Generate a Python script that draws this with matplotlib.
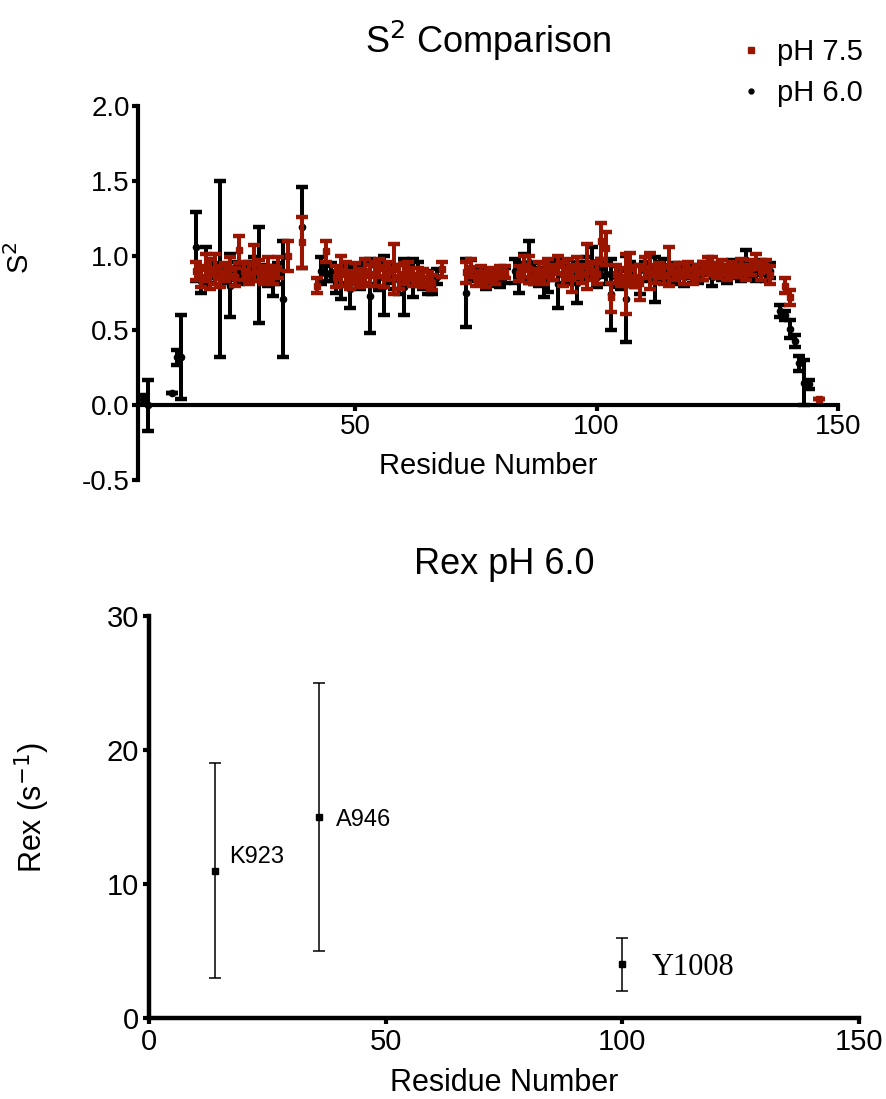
import numpy as np
import matplotlib
matplotlib.use("Agg")
import matplotlib.pyplot as plt
from matplotlib.lines import Line2D

plt.rcParams["font.family"] = ["Liberation Sans", "DejaVu Sans"]

# S2 order parameters, pH 6.0 (black)
res_60 = [6, 7, 12, 13, 14, 17, 18, 19, 20, 21, 22, 23, 24, 25, 26, 27, 28, 29, 30, 31,
          32, 33, 34, 35, 39, 43, 44, 45, 46, 47, 48, 49, 50, 51, 52, 53, 54, 55, 56, 57,
          58, 59, 60, 61, 62, 63, 64, 65, 66, 67, 73, 74, 76, 77, 78, 79, 80, 81, 83, 84,
          85, 86, 87, 88, 89, 90, 91, 92, 93, 94, 95, 96, 97, 98, 99, 100, 101, 102, 103, 104,
          105, 106, 107, 108, 109, 110, 111, 112, 113, 114, 115, 116, 117, 118, 119, 120, 121, 122, 123, 124,
          125, 126, 127, 128, 129, 130, 131, 132, 133, 134, 135, 136, 138, 139, 140, 141, 142, 143, 144]
s2_60 = [0.04, 0.00, 0.08, 0.32, 0.32, 1.06, 0.83, 0.93, 0.88, 0.90, 0.91, 0.87, 0.80, 0.90, 0.88, 0.88, 0.90, 0.92, 0.87, 0.89,
         0.86, 0.83, 0.88, 0.71, 1.19, 0.90, 0.88, 0.89, 0.82, 0.81, 0.88, 0.78, 0.87, 0.86, 0.88, 0.73, 0.87, 0.86, 0.80, 0.88,
         0.85, 0.84, 0.79, 0.87, 0.85, 0.88, 0.84, 0.82, 0.80, 0.86, 0.75, 0.90, 0.87, 0.84, 0.85, 0.86, 0.83, 0.87, 0.90, 0.85,
         0.92, 0.96, 0.88, 0.86, 0.82, 0.85, 0.90, 0.81, 0.88, 0.90, 0.87, 0.82, 0.90, 0.92, 0.96, 0.86, 0.92, 0.88, 0.74, 0.86,
         0.84, 0.71, 0.88, 0.86, 0.84, 0.90, 0.88, 0.84, 0.90, 0.91, 0.88, 0.90, 0.87, 0.86, 0.90, 0.88, 0.87, 0.90, 0.91, 0.86,
         0.90, 0.89, 0.87, 0.92, 0.90, 0.88, 0.97, 0.90, 0.89, 0.92, 0.88, 0.90, 0.63, 0.60, 0.51, 0.43, 0.28, 0.15, 0.14]
err_60 = [0.03, 0.17, 0.00, 0.05, 0.28, 0.23, 0.08, 0.13, 0.06, 0.05, 0.59, 0.05, 0.21, 0.06, 0.07, 0.05, 0.06, 0.07, 0.32, 0.05,
          0.06, 0.10, 0.07, 0.39, 0.27, 0.09, 0.05, 0.06, 0.07, 0.10, 0.06, 0.13, 0.06, 0.08, 0.07, 0.25, 0.06, 0.09, 0.20, 0.06,
          0.07, 0.10, 0.19, 0.06, 0.13, 0.08, 0.06, 0.08, 0.06, 0.05, 0.23, 0.07, 0.05, 0.06, 0.05, 0.05, 0.04, 0.05, 0.08, 0.10,
          0.09, 0.14, 0.07, 0.06, 0.10, 0.09, 0.06, 0.16, 0.06, 0.07, 0.06, 0.14, 0.06, 0.07, 0.10, 0.07, 0.06, 0.07, 0.24, 0.07,
          0.06, 0.29, 0.08, 0.07, 0.10, 0.06, 0.05, 0.15, 0.06, 0.07, 0.06, 0.05, 0.06, 0.06, 0.05, 0.06, 0.05, 0.06, 0.04, 0.06,
          0.05, 0.05, 0.05, 0.05, 0.05, 0.05, 0.07, 0.05, 0.06, 0.05, 0.05, 0.05, 0.04, 0.03, 0.06, 0.04, 0.05, 0.15, 0.03]

# S2 order parameters, pH 7.5 (red)
res_75 = [17, 18, 19, 20, 21, 22, 23, 24, 25, 26, 27, 28, 29, 30, 31, 32, 33, 34, 36, 39,
          42, 44, 46, 47, 48, 49, 50, 51, 52, 53, 54, 55, 56, 57, 58, 59, 60, 61, 62, 63,
          64, 65, 66, 68, 73, 74, 75, 76, 77, 78, 79, 80, 81, 84, 85, 86, 87, 88, 89, 90,
          91, 92, 93, 94, 95, 96, 97, 98, 99, 100, 101, 102, 103, 104, 105, 106, 107, 108, 109, 110,
          111, 112, 113, 114, 115, 116, 117, 118, 119, 120, 121, 122, 123, 124, 125, 126, 127, 128, 129, 130,
          131, 132, 133, 134, 135, 136, 139, 140, 146]
s2_75 = [0.90, 0.86, 0.92, 0.88, 0.91, 0.86, 0.89, 0.92, 0.86, 1.04, 0.90, 0.88, 0.95, 0.90, 0.87, 0.91, 0.87, 0.92, 1.00, 1.09,
         0.80, 1.03, 0.86, 0.90, 0.88, 0.84, 0.88, 0.85, 0.90, 0.87, 0.88, 0.92, 0.86, 0.90, 0.91, 0.86, 0.88, 0.90, 0.86, 0.87,
         0.85, 0.84, 0.82, 0.91, 0.89, 0.92, 0.85, 0.87, 0.84, 0.88, 0.86, 0.89, 0.89, 0.88, 0.93, 0.91, 0.86, 0.90, 0.88, 0.92,
         0.89, 0.94, 0.88, 0.91, 0.85, 0.92, 0.88, 0.93, 0.90, 0.88, 1.10, 1.05, 0.72, 0.88, 0.86, 0.81, 0.92, 0.86, 0.82, 0.92,
         0.90, 0.88, 0.90, 0.87, 0.93, 0.89, 0.90, 0.88, 0.91, 0.86, 0.89, 0.90, 0.94, 0.93, 0.90, 0.92, 0.89, 0.91, 0.90, 0.93,
         0.89, 0.92, 0.96, 0.90, 0.93, 0.87, 0.80, 0.72, 0.04]
err_75 = [0.06, 0.07, 0.09, 0.10, 0.10, 0.07, 0.06, 0.07, 0.06, 0.09, 0.06, 0.07, 0.12, 0.07, 0.06, 0.08, 0.06, 0.07, 0.10, 0.17,
          0.05, 0.07, 0.07, 0.10, 0.08, 0.06, 0.07, 0.06, 0.08, 0.07, 0.08, 0.06, 0.07, 0.06, 0.17, 0.08, 0.07, 0.06, 0.06, 0.05,
          0.06, 0.05, 0.05, 0.05, 0.07, 0.06, 0.05, 0.06, 0.05, 0.04, 0.05, 0.04, 0.04, 0.05, 0.07, 0.09, 0.05, 0.06, 0.07, 0.06,
          0.05, 0.06, 0.08, 0.07, 0.09, 0.07, 0.06, 0.15, 0.06, 0.07, 0.12, 0.11, 0.10, 0.06, 0.06, 0.20, 0.10, 0.07, 0.12, 0.07,
          0.12, 0.06, 0.05, 0.06, 0.13, 0.05, 0.05, 0.07, 0.05, 0.05, 0.05, 0.06, 0.05, 0.06, 0.05, 0.05, 0.05, 0.05, 0.04, 0.05,
          0.05, 0.05, 0.05, 0.06, 0.04, 0.06, 0.05, 0.05, 0.00]

# Rex at pH 6.0
rex_res = [14, 36, 100]
rex_val = [11, 15, 4]
rex_err = [8, 10, 2]
rex_labels = ["K923", "A946", "Y1008"]

red = "#9a1500"
W, H = 887, 1099
fig = plt.figure(figsize=(W / 100, H / 100), dpi=100)

# ---- top panel: S2 comparison
ax1 = fig.add_axes([138 / W, 1 - 480 / H, 700 / W, 374 / H])
ax1.errorbar(res_60, s2_60, yerr=err_60, fmt="o", color="black", ms=4.5,
             elinewidth=2.9, capsize=4, capthick=3.2, zorder=2)
ax1.errorbar(res_75, s2_75, yerr=err_75, fmt="s", color=red, ms=4.5,
             elinewidth=2.9, capsize=4, capthick=3.2, zorder=3)
ax1.set_xlim(5, 150)
ax1.set_ylim(-0.5, 2.0)
ax1.set_xticks([50, 100, 150])
ax1.set_yticks([-0.5, 0.0, 0.5, 1.0, 1.5, 2.0])
ax1.set_yticklabels(["-0.5", "0.0", "0.5", "1.0", "1.5", "2.0"])
for s in ["top", "right"]:
    ax1.spines[s].set_visible(False)
ax1.spines["bottom"].set_position(("data", 0))
for s in ["left", "bottom"]:
    ax1.spines[s].set_linewidth(3)
ax1.tick_params(labelsize=20, width=3, length=4, pad=2)
ax1.set_xlabel("Residue Number", fontsize=21)
ax1.xaxis.set_label_coords(0.5, 0.075)
ax1.set_ylabel("S$^2$", fontsize=21)
ax1.yaxis.set_label_coords(-0.147, 0.594)
ax1.set_title("S$^2$ Comparison", fontsize=26, pad=38)

handles = [Line2D([], [], ls="none", marker="s", ms=4, color=red),
           Line2D([], [], ls="none", marker="o", ms=3.5, color="black")]
fig.legend(handles, ["pH 7.5", "pH 6.0"], loc="upper left",
           bbox_to_anchor=(742 / W, 1 - 38 / H), frameon=False, fontsize=21,
           handlelength=0.6, handletextpad=0.6, labelspacing=0.45,
           borderaxespad=0, borderpad=0)

# ---- bottom panel: Rex
ax2 = fig.add_axes([149 / W, 1 - 1018 / H, 710 / W, 402 / H])
ax2.errorbar(rex_res, rex_val, yerr=rex_err, fmt="s", color="black", ms=4.5,
             elinewidth=1.1, capsize=4, capthick=1.1)
ax2.set_xlim(0, 150)
ax2.set_ylim(0, 30)
ax2.set_xticks([0, 50, 100, 150])
ax2.set_yticks([0, 10, 20, 30])
for s in ["top", "right"]:
    ax2.spines[s].set_visible(False)
for s in ["left", "bottom"]:
    ax2.spines[s].set_linewidth(3.2)
ax2.tick_params(labelsize=21, width=3, length=4, pad=3)
ax2.set_xlabel("Residue Number", fontsize=22, labelpad=9)
ax2.set_ylabel("Rex (s$^{-1}$)", fontsize=22)
ax2.yaxis.set_label_coords(-0.137, 0.523)
ax2.set_title("Rex pH 6.0", fontsize=26, pad=30)

ax2.text(17, 12.05, rex_labels[0], fontsize=17, va="center")
ax2.text(39.5, 14.8, rex_labels[1], fontsize=17, va="center")
ax2.text(106.2, 3.75, rex_labels[2], fontsize=22, va="center",
         family=["Liberation Serif", "DejaVu Serif"])

fig.savefig("out.png", dpi=100)
